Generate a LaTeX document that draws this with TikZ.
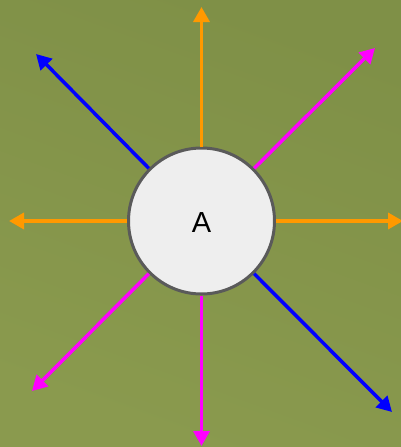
\documentclass[tikz,border=0pt]{standalone}
\usepackage{fontspec}
\setmainfont{Liberation Sans}
\usetikzlibrary{arrows.meta, positioning}
\definecolor{FieldGreen}{RGB}{127, 144, 71}
\definecolor{FieldLight}{RGB}{138, 154, 78}
\definecolor{RayOrange}{RGB}{255, 153, 0}
\definecolor{RayPink}{RGB}{255, 0, 255}
\definecolor{RayBlue}{RGB}{0, 0, 255}
\definecolor{HubGray}{RGB}{90, 90, 90}
\definecolor{HubFill}{RGB}{238, 238, 238}

\begin{document}
\begin{tikzpicture}[
  x=1pt, y=-1pt,
  hub/.style={circle, draw=HubGray, fill=HubFill, line width=3pt, minimum size=146pt, inner sep=0pt, font=\fontsize{29}{34}\selectfont},
  ray/.style={-{Triangle[length=15pt, width=16pt]}, line width=3.5pt}
]
  % backdrop
  \shade[top color=FieldGreen, bottom color=FieldLight, shading angle=-20] (0,0) rectangle (401,447);
  \useasboundingbox (0,0) rectangle (401,447);

  \node[hub] (A) at (201.5,221) {\raisebox{-2pt}[\height][0pt]{A}};

  % ray ends
  \coordinate (n) at (201.5,7);
  \coordinate (s) at (201.5,446);
  \coordinate (w) at (9,221);
  \coordinate (e) at (403,221);
  \coordinate (nw) at (36,54);
  \coordinate (ne) at (375,48);
  \coordinate (sw) at (32,391);
  \coordinate (se) at (392,412);

  \draw[ray, RayOrange] (A.north) -- (n);
  \draw[ray, RayPink] (A.south) -- (s);
  \draw[ray, RayOrange] (A.west) -- (w);
  \draw[ray, RayOrange] (A.east) -- (e);
  \draw[ray, RayBlue] (A.north west) -- (nw);
  \draw[ray, RayPink] (A.north east) -- (ne);
  \draw[ray, RayPink] (A.south west) -- (sw);
  \draw[ray, RayBlue] (A.south east) -- (se);
\end{tikzpicture}
\end{document}
